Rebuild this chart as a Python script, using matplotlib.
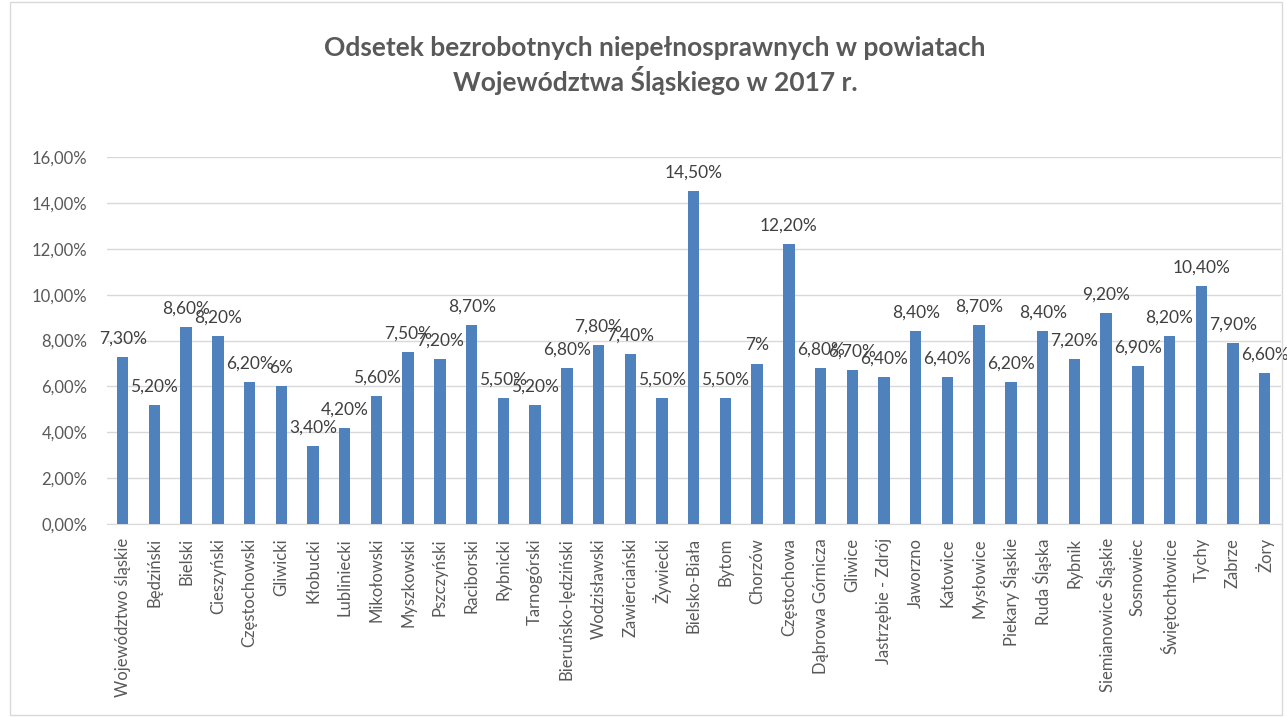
import matplotlib.pyplot as plt
from matplotlib.patches import Rectangle
from matplotlib.ticker import FuncFormatter

categories = [
    "Województwo śląskie", "Będziński", "Bielski", "Cieszyński", "Częstochowski",
    "Gliwicki", "Kłobucki", "Lubliniecki", "Mikołowski", "Myszkowski",
    "Pszczyński", "Raciborski", "Rybnicki", "Tarnogórski", "Bieruńsko-lędziński",
    "Wodzisławski", "Zawierciański", "Żywiecki", "Bielsko-Biała", "Bytom",
    "Chorzów", "Częstochowa", "Dąbrowa Górnicza", "Gliwice", "Jastrzębie - Zdrój",
    "Jaworzno", "Katowice", "Mysłowice", "Piekary Śląskie", "Ruda Śląska",
    "Rybnik", "Siemianowice Śląskie", "Sosnowiec", "Świętochłowice", "Tychy",
    "Zabrze", "Żory",
]
values = [
    7.3, 5.2, 8.6, 8.2, 6.2,
    6.0, 3.4, 4.2, 5.6, 7.5,
    7.2, 8.7, 5.5, 5.2, 6.8,
    7.8, 7.4, 5.5, 14.5, 5.5,
    7.0, 12.2, 6.8, 6.7, 6.4,
    8.4, 6.4, 8.7, 6.2, 8.4,
    7.2, 9.2, 6.9, 8.2, 10.4,
    7.9, 6.6,
]
labels = [
    "7,30%", "5,20%", "8,60%", "8,20%", "6,20%",
    "6%", "3,40%", "4,20%", "5,60%", "7,50%",
    "7,20%", "8,70%", "5,50%", "5,20%", "6,80%",
    "7,80%", "7,40%", "5,50%", "14,50%", "5,50%",
    "7%", "12,20%", "6,80%", "6,70%", "6,40%",
    "8,40%", "6,40%", "8,70%", "6,20%", "8,40%",
    "7,20%", "9,20%", "6,90%", "8,20%", "10,40%",
    "7,90%", "6,60%",
]

plt.rcParams['font.family'] = ['Lato', 'DejaVu Sans']
GRAY = '#595959'
BLUE = '#4f81bd'

fig = plt.figure(figsize=(12.87, 7.17), dpi=100)
fig.patches.append(Rectangle((0.008, 0.003), 0.988, 0.994, transform=fig.transFigure,
                             fill=False, edgecolor='#d9d9d9', linewidth=1))

ax = fig.add_axes([0.083, 0.269, 0.912, 0.512])
x = list(range(len(categories)))
ax.bar(x, [v / 100 for v in values], width=0.36, color=BLUE, zorder=3)

# labels sit just above each bar, like the Excel original (some overlap there too)
for xi, v, lab in zip(x, values, labels):
    ax.text(xi, v / 100 + 0.0045, lab, ha='center', va='bottom', fontsize=12.5, color='#404040')

ax.set_xlim(-0.5, len(categories) - 0.5)
ax.set_ylim(0, 0.16)
ax.set_yticks([i * 0.02 for i in range(9)])
ax.yaxis.set_major_formatter(FuncFormatter(lambda v, _: f"{v * 100:.2f}%".replace('.', ',')))
ax.grid(axis='y', color='#d9d9d9', linewidth=1, zorder=0)
ax.set_xticks(x)
ax.set_xticklabels(categories, rotation=90, fontsize=12, color=GRAY)
ax.tick_params(axis='y', labelsize=12, colors=GRAY, length=0, pad=14)
ax.tick_params(axis='x', length=0, pad=10)
for side in ['top', 'right', 'left']:
    ax.spines[side].set_visible(False)
ax.spines['bottom'].set_color('#d9d9d9')

fig.text(0.509, 0.909, "Odsetek bezrobotnych niepełnosprawnych w powiatach\nWojewództwa Śląskiego w 2017 r.",
         ha='center', va='center', fontsize=19, fontweight='bold', color=GRAY, linespacing=1.25)

fig.savefig('out.png', dpi=100)
